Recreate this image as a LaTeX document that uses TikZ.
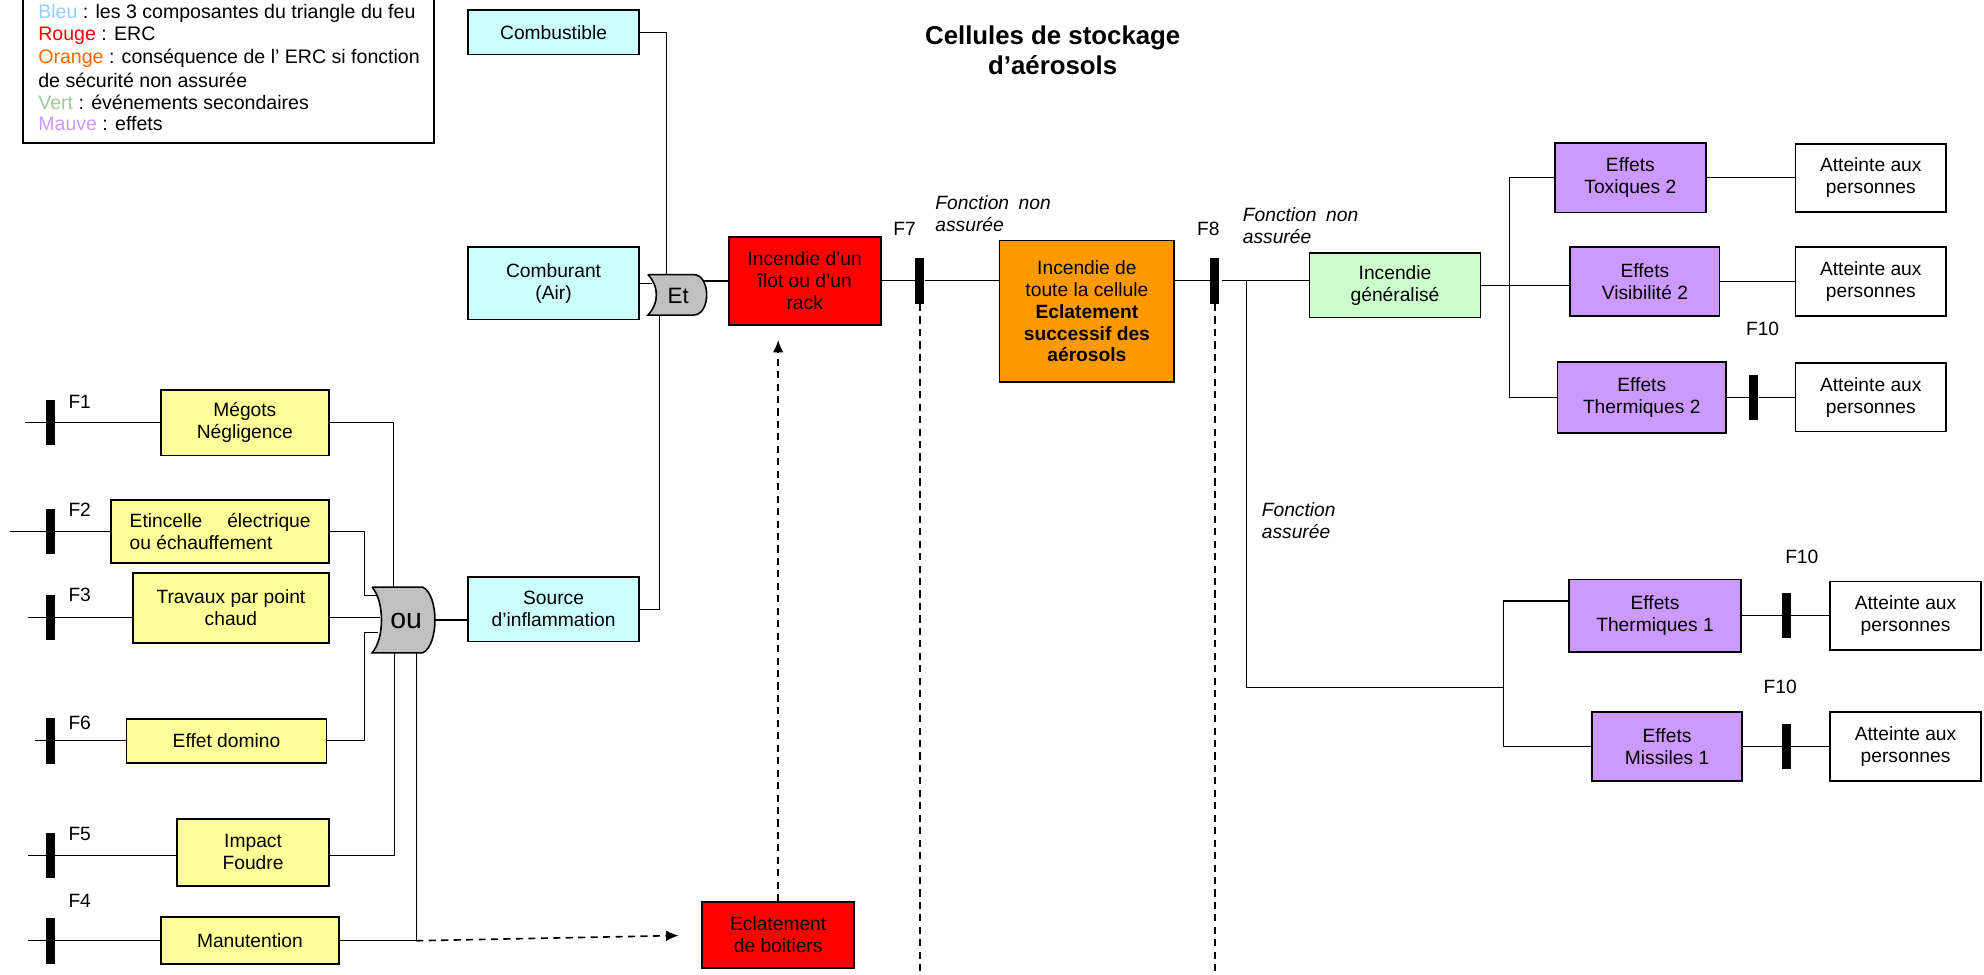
\documentclass[tikz,border=0pt]{standalone}
\usepackage{fontspec}
\setmainfont{Liberation Sans}
\usetikzlibrary{arrows.meta}
\newdimen\pxu \pxu=0.025cm
\newcommand\bxfont{\fontsize{10.8}{12.3}\selectfont}
\definecolor{bleuciel}{HTML}{CCFFFF}
\definecolor{jaune}{HTML}{FFFF99}
\definecolor{orangebox}{HTML}{FF9900}
\definecolor{vertclair}{HTML}{CCFFCC}
\definecolor{mauve}{HTML}{CC99FF}
\definecolor{gris}{HTML}{C0C0C0}
\definecolor{bleuleg}{HTML}{99CCFF}
\definecolor{orangeleg}{HTML}{FF6600}
\definecolor{vertleg}{HTML}{99CC99}
\tikzset{
  box/.style = {draw, line width=1pt, align=center, inner sep=0pt, font=\bxfont},
  sz/.style 2 args = {minimum width=#1\pxu, minimum height=#2\pxu},
  bar/.style = {fill=black, inner sep=0pt, minimum width=7\pxu, minimum height=36\pxu},
  flab/.style = {font=\bxfont},
  ital/.style = {font=\bxfont\itshape, align=left, anchor=north west, inner sep=0pt},
  wire/.style = {line width=0.6pt},
  dashline/.style = {line width=0.9pt, dash pattern=on 4pt off 3pt},
  gate/.style = {draw, fill=gris, line width=0.9pt}
}
\tikzset{>={Latex[length=7pt,width=6pt]}}

\begin{document}
\begin{tikzpicture}[x=0.025cm, y=-0.025cm]
  \useasboundingbox (0,0) rectangle (1568,770);

  % legende
  \draw[line width=1pt] (18,-10) rectangle (343,113);
  \foreach \T [count=\i] in {{\textcolor{bleuleg}{Bleu} : les 3 composantes du triangle du feu},
      {\textcolor{red}{Rouge} : ERC},
      {\textcolor{orangeleg}{Orange} : conséquence de l’ ERC si fonction},
      {de sécurité non assurée},
      {\textcolor{vertleg}{Vert} : événements secondaires},
      {\textcolor{mauve}{Mauve} : effets}}
    \node[anchor=west, inner sep=0pt, font=\fontsize{11}{12}\selectfont] (leg\i) at (30,{11+17.4*(\i-1)}) {\T};

  % titre
  \node[align=center, font=\fontsize{14.5}{17}\selectfont\bfseries] (titre) at (832,40) {Cellules de stockage\\d’aérosols};

  % triangle du feu
  \node[box,fill=bleuciel,sz={135}{35}] (comb) at (437.5,25.5) {Combustible};
  \node[box,fill=bleuciel,sz={135}{57}] (combu) at (437.5,224) {Comburant\\(Air)};
  \node[box,fill=bleuciel,sz={135}{51}] (src) at (437.5,481.5) {Source\\d’inflammation};

  % causes
  \node[box,fill=jaune,sz={133}{52}] (meg) at (193.5,334) {Mégots\\Négligence};
  \node[box,fill=jaune,sz={172}{50},align=left] (etin) at (174,420) {Etincelle\hspace{1.3em}électrique\\ou échauffement};
  \node[box,fill=jaune,sz={155}{55}] (trav) at (182.5,480.5) {Travaux par point\\chaud};
  \node[box,fill=jaune,sz={158}{35}] (dom) at (179,585.5) {Effet domino};
  \node[box,fill=jaune,sz={120}{53}] (imp) at (200,673.5) {Impact\\Foudre};
  \node[box,fill=jaune,sz={141}{37}] (man) at (197.5,743.5) {Manutention};

  % ERC et suites
  \node[box,fill=red,sz={120}{70}] (ilot) at (636,222) {Incendie d’un\\îlot ou d’un\\rack};
  \node[box,fill=red,sz={120}{52}] (ecl) at (615,739) {Eclatement\\de boitiers};
  \node[box,fill=orangebox,sz={138}{112}] (cell) at (859,246) {Incendie de\\toute la cellule\\\textbf{Eclatement}\\\textbf{successif des}\\\textbf{aérosols}};
  \node[box,fill=vertclair,sz={135}{51}] (gen) at (1102.5,225.5) {Incendie\\généralisé};

  % effets
  \node[box,fill=mauve,sz={119}{55}] (tox) at (1288.5,140.5) {Effets\\Toxiques 2};
  \node[box,fill=mauve,sz={118}{55}] (vis) at (1300,222.5) {Effets\\Visibilité 2};
  \node[box,fill=mauve,sz={133}{56}] (th2) at (1297.5,314) {Effets\\Thermiques 2};
  \node[box,fill=mauve,sz={136}{57}] (th1) at (1308,486.5) {Effets\\Thermiques 1};
  \node[box,fill=mauve,sz={119}{54}] (mis) at (1317.5,590) {Effets\\Missiles 1};
  \foreach \N/\X/\Y in {at1/1478.5/140.5, at2/1478.5/222.5, at3/1478.5/314, at4/1506/486.5, at5/1506/590}
    \node[box,sz={119}{54}] (\N) at (\X,\Y) {Atteinte aux\\personnes};

  % barrieres
  \foreach \N/\X/\Y in {b1/40/334, b2/40/420, b3/40/488, b6/40/585.5, b5/40/676, b4/40/743.5,
      b7/727/222, b8/960/222, b10a/1386/314, b10b/1412/486.5, b10c/1412/590}
    \node[bar] (\N) at (\X,\Y) {};
  \foreach \T/\X/\Y [count=\i] in {F1/63/318, F2/63/403, F3/63/470, F6/63/571, F5/63/659, F4/63/712,
      F7/715/181, F8/955/181, F10/1393/260, F10/1424/440, F10/1407/543}
    \node[flab] (lab\i) at (\X,\Y) {\T};
  \node[ital] (fn7) at (739,154) {Fonction\enspace non\\assurée};
  \node[ital] (fn8) at (982,164) {Fonction\enspace non\\assurée};
  \node[ital] (fa) at (997,397) {Fonction\\assurée};

  % porte ou
  \draw[gate] (294,464) -- (334,464) .. controls (347,470) and (347,510) .. (334,516)
    -- (294,516) .. controls (304,505) and (304,475) .. (294,464);
  \node[font=\fontsize{16}{16}\selectfont] (ou) at (321,491) {ou};
  % porte et
  \draw[gate] (512,217) -- (548,217) .. controls (562,217) and (562,249) .. (548,249)
    -- (512,249) .. controls (521,240) and (521,226) .. (512,217);
  \node[font=\fontsize{12.5}{12.5}\selectfont] (et) at (536,234) {Et};

  \coordinate (s1) at (20,334);   \coordinate (s2) at (8,420);
  \coordinate (s3) at (22,488);   \coordinate (s6) at (28,585.5);
  \coordinate (s5) at (22,676);   \coordinate (s4) at (22,743.5);
  \coordinate (k2) at (288,471);  \coordinate (k6) at (288,500);
  \coordinate (ou1) at (311,464); \coordinate (ou2) at (298,471);
  \coordinate (ou3) at (300,488); \coordinate (ou6) at (299,500);
  \coordinate (ou5) at (312,516); \coordinate (ou4) at (329,516);
  \coordinate (m4) at (329,743.5); \coordinate (ouo) at (344,490);
  \coordinate (et1) at (527,217); \coordinate (et2) at (515,224);
  \coordinate (et3) at (521,249); \coordinate (eto) at (556,222);
  \coordinate (j8) at (966,222);  \coordinate (j9) at (985,222);
  \coordinate (k9) at (1188,543); \coordinate (k10) at (1188,475);
  \coordinate (k11) at (1188,590);
  \coordinate (u1) at (1193,140.5); \coordinate (u2) at (1193,314);
  \coordinate (d7) at (727,770);  \coordinate (d8) at (960,770);

  % liaisons
  \draw[wire] (s1) -- (meg.west);  \draw[wire] (meg.east) -| (ou1);
  \draw[wire] (s2) -- (etin.west); \draw[wire] (etin.east) -| (k2) -- (ou2);
  \draw[wire] (s3) -- (trav.west |- s3); \draw[wire] (trav.east |- s3) -- (ou3);
  \draw[wire] (s6) -- (dom.west);  \draw[wire] (dom.east) -| (k6) -- (ou6);
  \draw[wire] (s5) -- (imp.west |- s5);  \draw[wire] (imp.east |- s5) -| (ou5);
  \draw[wire] (s4) -- (man.west);  \draw[wire] (man.east) -- (m4) -- (ou4);
  \draw[wire] (ouo) -- (src.west |- ouo);
  \draw[wire] (comb.east) -| (et1);
  \draw[wire] (combu.east) -- (et2);
  \draw[wire] (src.east) -| (et3);
  \draw[line width=1.3pt] (eto) -- (ilot.west |- eto);
  \draw[wire] (ilot.east) -- (b7) -- (cell.west |- b7);
  \draw[wire] (cell.east |- b8) -- (b8);
  \draw[wire] (j8) -- (gen.west |- j8);
  \draw[wire] (j9) |- (k9);
  \draw[wire] (th1.west |- k10) -- (k10) -- (k11) -- (mis.west |- k11);
  \draw[wire] (gen.east) -- (gen.east -| vis.west);
  \draw[wire] (tox.west) -- (u1) -- (u2) -- (th2.west);
  \draw[wire] (tox.east) -- (at1.west);
  \draw[wire] (vis.east) -- (at2.west);
  \draw[wire] (th2.east) -- (b10a) -- (at3.west);
  \draw[wire] (th1.east) -- (b10b) -- (at4.west);
  \draw[wire] (mis.east) -- (b10c) -- (at5.west);

  % pointilles
  \draw[dashline,->,shorten >=18\pxu] (m4) -- (ecl.west);
  \draw[dashline,->,shorten >=11\pxu] (ecl.north) -- (ilot.south -| ecl.north);
  \draw[dashline] (b7.south) -- (d7);
  \draw[dashline] (b8.south) -- (d8);
\end{tikzpicture}
\end{document}
